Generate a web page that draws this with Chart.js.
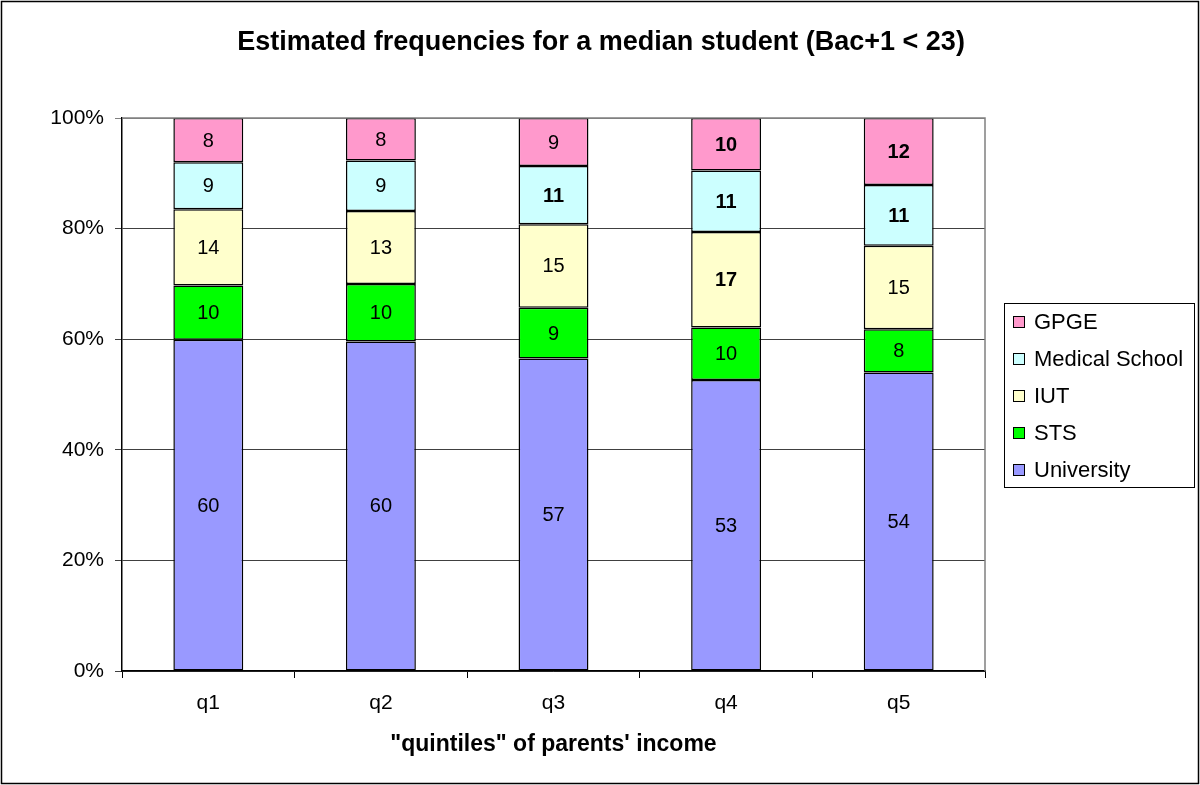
<!DOCTYPE html>
<html>
<head>
<meta charset="utf-8">
<script src="https://cdn.jsdelivr.net/npm/chart.js@4/dist/chart.umd.min.js"></script>
<style>
  html, body { margin: 0; padding: 0; background: #fff; }
  canvas { display: block; }
</style>
</head>
<body>
<canvas id="chart" width="1200" height="785"></canvas>
<script>
// ── Data ──────────────────────────────────────────────────────────────────────

const quintiles = ['q1', 'q2', 'q3', 'q4', 'q5'];
const yTicks = [0, 20, 40, 60, 80, 100];

const university = [59.9, 59.6, 56.5, 52.6, 54.0];
const sts        = [9.8, 10.4, 9.2, 9.5, 7.8];
const iut        = [13.8, 13.2, 15.1, 17.3, 15.1];
const medical    = [8.5, 9.1, 10.5, 11.1, 11.0];
const gpge       = [8.0, 7.7, 8.7, 9.5, 12.1];

// labels printed in bold in the original
const universityBold = [false, false, false, false, false];
const stsBold        = [false, false, false, false, false];
const iutBold        = [false, false, false, true, false];
const medicalBold    = [false, false, true, true, true];
const gpgeBold       = [false, false, false, true, true];

const TITLE = 'Estimated frequencies for a median student (Bac+1 < 23)';
const X_TITLE = '"quintiles" of parents\' income';
const FONT = '"Liberation Sans", Arial, sans-serif';

// ── Plugins ───────────────────────────────────────────────────────────────────

const decorations = {
  id: 'decorations',
  afterDraw(chart) {
    const ctx = chart.ctx;
    const a = chart.chartArea;
    ctx.save();

    // outer frame
    ctx.strokeStyle = '#000';
    ctx.lineWidth = 1.5;
    ctx.strokeRect(1.5, 1.5, chart.width - 3, chart.height - 3);

    // top + right border of plot area
    ctx.strokeStyle = '#808080';
    ctx.lineWidth = 1.5;
    ctx.beginPath();
    ctx.moveTo(a.left, a.top);
    ctx.lineTo(a.right, a.top);
    ctx.lineTo(a.right, a.bottom);
    ctx.stroke();

    // title
    ctx.fillStyle = '#000';
    ctx.textAlign = 'center';
    ctx.textBaseline = 'middle';
    ctx.font = 'bold 27px ' + FONT;
    ctx.fillText(TITLE, 601, 43);

    // x axis title
    ctx.font = 'bold 23px ' + FONT;
    ctx.fillText(X_TITLE, (a.left + a.right) / 2, 745);

    // segment labels
    chart.data.datasets.forEach((ds, di) => {
      const meta = chart.getDatasetMeta(di);
      meta.data.forEach((bar, i) => {
        const p = bar.getProps(['x', 'y', 'base'], true);
        ctx.font = (ds.bold[i] ? 'bold ' : '') + '20px ' + FONT;
        ctx.fillText(String(Math.round(ds.data[i])), p.x, (p.y + p.base) / 2 + 1);
      });
    });

    // legend
    const lx = 1004, ly = 303, lw = 190, lh = 184;
    ctx.strokeStyle = '#000';
    ctx.lineWidth = 1;
    ctx.strokeRect(lx + 0.5, ly + 0.5, lw, lh);
    ctx.textAlign = 'left';
    ctx.font = '22px ' + FONT;
    const items = chart.data.datasets.slice().reverse();
    items.forEach((ds, k) => {
      const cy = 322 + k * 37;
      ctx.fillStyle = ds.backgroundColor;
      ctx.fillRect(1013.5, cy - 5.5, 11, 11);
      ctx.strokeStyle = '#000';
      ctx.strokeRect(1013.5, cy - 5.5, 11, 11);
      ctx.fillStyle = '#000';
      ctx.fillText(ds.label, 1034, cy + 1);
    });

    ctx.restore();
  }
};

// ── Chart ─────────────────────────────────────────────────────────────────────

function series(label, data, bold, color) {
  return {
    label, data, bold,
    backgroundColor: color,
    borderColor: '#000',
    borderWidth: 1.5,
    borderSkipped: false,
    categoryPercentage: 1,
    barPercentage: 0.405,
  };
}

new Chart(document.getElementById('chart'), {
  type: 'bar',
  data: {
    labels: quintiles,
    datasets: [
      series('University', university, universityBold, '#9999FF'),
      series('STS', sts, stsBold, '#00FF00'),
      series('IUT', iut, iutBold, '#FFFFCC'),
      series('Medical School', medical, medicalBold, '#CCFFFF'),
      series('GPGE', gpge, gpgeBold, '#FF99CC'),
    ]
  },
  options: {
    responsive: false,
    animation: false,
    layout: { padding: { left: 0, right: 215, top: 118, bottom: 0 } },
    plugins: {
      legend: { display: false },
      title: { display: false },
      tooltip: { enabled: false },
    },
    scales: {
      x: {
        stacked: true,
        afterFit: s => { s.height = 114; },
        grid: { drawOnChartArea: false, offset: true, tickLength: 7, color: '#000', lineWidth: 1 },
        border: { color: '#000', width: 1.5 },
        ticks: { color: '#000', font: { family: FONT, size: 21 }, padding: 13 },
      },
      y: {
        stacked: true,
        min: 0,
        max: 100,
        afterFit: s => { s.width = 122; },
        afterBuildTicks: s => { s.ticks = yTicks.map(v => ({ value: v })); },
        grid: {
          color: c => (c.tick && c.tick.value === 100 ? '#808080' : '#404040'),
          lineWidth: 1,
          tickLength: 7,
        },
        border: { color: '#000', width: 1.5 },
        ticks: { color: '#000', font: { family: FONT, size: 21 }, padding: 11, callback: v => v + '%' },
      }
    }
  },
  plugins: [decorations]
});
</script>
</body>
</html>
